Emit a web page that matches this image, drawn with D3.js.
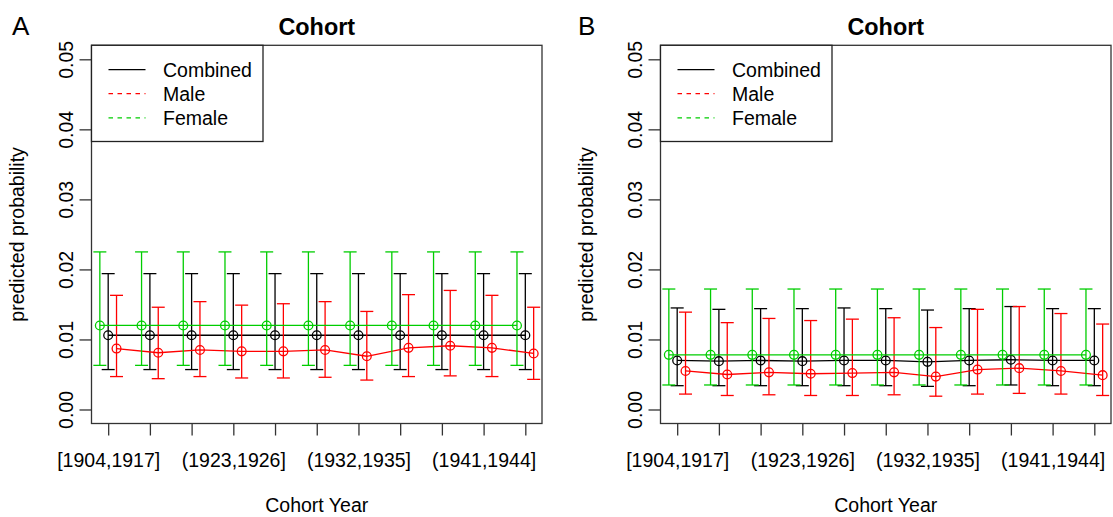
<!DOCTYPE html>
<html>
<head>
<meta charset="utf-8">
<script src="https://cdn.jsdelivr.net/npm/d3@7"></script>
<style>
  body { margin: 0; background: #fff; }
  svg { font-family: "Liberation Sans", Arial, Helvetica, sans-serif; }
</style>
</head>
<body>
<svg id="chart" width="1113" height="517"></svg>
<script>
// Cohort categories (x axis)
const cohorts = [
  "[1904,1917]", "(1917,1920]", "(1920,1923]", "(1923,1926]", "(1926,1929]",
  "(1929,1932]", "(1932,1935]", "(1935,1938]", "(1938,1941]", "(1941,1944]",
  "(1944,1947]",
];
const yTicks = [0, 0.01, 0.02, 0.03, 0.04, 0.05];
const seriesNames = ["Combined", "Male", "Female"];

// Panel A
const aCombinedMean = [0.0106, 0.0106, 0.0106, 0.0106, 0.0106, 0.0106, 0.0106, 0.0106, 0.0106, 0.0106, 0.0106];
const aCombinedLo = [0.0057, 0.0057, 0.0057, 0.0057, 0.0057, 0.0057, 0.0057, 0.0057, 0.0057, 0.0057, 0.0057];
const aCombinedHi = [0.0194, 0.0194, 0.0194, 0.0194, 0.0194, 0.0194, 0.0194, 0.0194, 0.0194, 0.0194, 0.0194];
const aMaleMean = [0.0087, 0.0081, 0.0085, 0.0083, 0.0083, 0.0085, 0.0076, 0.0088, 0.0091, 0.0088, 0.0080];
const aMaleLo = [0.0047, 0.0044, 0.0047, 0.0045, 0.0045, 0.0046, 0.0042, 0.0047, 0.0048, 0.0047, 0.0043];
const aMaleHi = [0.0163, 0.0146, 0.0154, 0.0149, 0.0151, 0.0154, 0.0140, 0.0164, 0.0170, 0.0163, 0.0146];
const aFemaleMean = [0.0120, 0.0120, 0.0120, 0.0120, 0.0120, 0.0120, 0.0120, 0.0120, 0.0120, 0.0120, 0.0120];
const aFemaleLo = [0.0063, 0.0063, 0.0063, 0.0063, 0.0063, 0.0063, 0.0063, 0.0063, 0.0063, 0.0063, 0.0063];
const aFemaleHi = [0.0225, 0.0225, 0.0225, 0.0225, 0.0225, 0.0225, 0.0225, 0.0225, 0.0225, 0.0225, 0.0225];

// Panel B
const bCombinedMean = [0.0070, 0.0069, 0.0070, 0.0069, 0.0070, 0.0070, 0.0068, 0.0070, 0.0071, 0.0070, 0.0070];
const bCombinedLo = [0.0034, 0.0034, 0.0034, 0.0034, 0.0034, 0.0034, 0.0033, 0.0034, 0.0035, 0.0034, 0.0034];
const bCombinedHi = [0.0145, 0.0143, 0.0144, 0.0144, 0.0145, 0.0144, 0.0142, 0.0144, 0.0147, 0.0144, 0.0144];
const bMaleMean = [0.0055, 0.0050, 0.0053, 0.0051, 0.0052, 0.0053, 0.0047, 0.0057, 0.0059, 0.0055, 0.0049];
const bMaleLo = [0.0022, 0.0020, 0.0021, 0.0020, 0.0020, 0.0021, 0.0019, 0.0022, 0.0023, 0.0022, 0.0020];
const bMaleHi = [0.0139, 0.0124, 0.0130, 0.0127, 0.0129, 0.0131, 0.0117, 0.0143, 0.0147, 0.0137, 0.0122];
const bFemaleMean = [0.0078, 0.0078, 0.0078, 0.0078, 0.0078, 0.0078, 0.0078, 0.0078, 0.0078, 0.0078, 0.0078];
const bFemaleLo = [0.0035, 0.0035, 0.0035, 0.0035, 0.0035, 0.0035, 0.0035, 0.0035, 0.0035, 0.0035, 0.0035];
const bFemaleHi = [0.0172, 0.0172, 0.0172, 0.0172, 0.0172, 0.0172, 0.0172, 0.0172, 0.0172, 0.0172, 0.0172];

const colors = { Combined: "#000000", Male: "#FF0000", Female: "#00CD00" };
const offsets = { Combined: 0, Male: 0.2, Female: -0.2 };
const fontSize = 19.5;

const svg = d3.select("#chart");

function drawPanel(left, letter, series) {
  const plot = { left: left, right: left + 450.5, top: 45.3, bottom: 423.5 };
  const g = svg.append("g");

  const x = d3.scaleLinear().domain([0.6, 11.4]).range([plot.left, plot.right]);
  const y = d3.scaleLinear().domain([-0.002, 0.052]).range([plot.bottom, plot.top]);

  // series: line, error bars, points
  const line = d3.line().x((d) => x(d.i + offsets[d.name])).y((d) => y(d.mean));
  series.forEach((s) => {
    const pts = s.mean.map((m, i) => ({ i: i + 1, name: s.name, mean: m, lo: s.lo[i], hi: s.hi[i] }));
    const col = colors[s.name];
    const sg = g.append("g");

    sg.append("path")
      .datum(pts)
      .attr("d", line)
      .attr("fill", "none")
      .attr("stroke", col)
      .attr("stroke-width", 1.3);

    const bars = sg.selectAll(".bar").data(pts).enter().append("g");
    bars.append("line")
      .attr("x1", (d) => x(d.i + offsets[d.name]))
      .attr("x2", (d) => x(d.i + offsets[d.name]))
      .attr("y1", (d) => y(d.lo))
      .attr("y2", (d) => y(d.hi))
      .attr("stroke", col).attr("stroke-width", 1.3);
    ["lo", "hi"].forEach((k) => {
      bars.append("line")
        .attr("x1", (d) => x(d.i + offsets[d.name]) - 6.5)
        .attr("x2", (d) => x(d.i + offsets[d.name]) + 6.5)
        .attr("y1", (d) => y(d[k]))
        .attr("y2", (d) => y(d[k]))
        .attr("stroke", col).attr("stroke-width", 1.3);
    });

    sg.selectAll("circle").data(pts).enter().append("circle")
      .attr("cx", (d) => x(d.i + offsets[d.name]))
      .attr("cy", (d) => y(d.mean))
      .attr("r", 4.4)
      .attr("fill", "none")
      .attr("stroke", col)
      .attr("stroke-width", 1.3);
  });

  // plot box
  g.append("rect")
    .attr("x", plot.left).attr("y", plot.top)
    .attr("width", plot.right - plot.left).attr("height", plot.bottom - plot.top)
    .attr("fill", "none").attr("stroke", "#333").attr("stroke-width", 1.3);

  // y axis
  const yAxis = g.append("g")
    .attr("transform", `translate(${plot.left},0)`)
    .call(d3.axisLeft(y).tickValues(yTicks).tickSize(12).tickFormat(d3.format(".2f")));
  yAxis.select(".domain").remove();
  yAxis.selectAll(".tick line").attr("stroke", "#333").attr("stroke-width", 1.3);
  yAxis.selectAll(".tick text")
    .attr("x", null).attr("dy", null)
    .attr("text-anchor", "middle")
    .attr("transform", "translate(-19,0) rotate(-90)")
    .style("font-size", fontSize + "px")
    .attr("fill", "#000");

  // x axis
  const xAxis = g.append("g")
    .attr("transform", `translate(0,${plot.bottom})`)
    .call(d3.axisBottom(x).tickValues(d3.range(1, 12)).tickSize(12).tickFormat((i) => cohorts[i - 1]));
  xAxis.select(".domain").remove();
  xAxis.selectAll(".tick line").attr("stroke", "#333").attr("stroke-width", 1.3);
  xAxis.selectAll(".tick text")
    .attr("y", 43).attr("dy", null)
    .style("font-size", fontSize + "px")
    .attr("fill", "#000");

  // drop labels that would overlap, like R does
  let lastRight = -Infinity;
  xAxis.selectAll(".tick").each(function (d) {
    const t = d3.select(this).select("text");
    const w = t.node().getComputedTextLength();
    const cx = x(d);
    if (cx - w / 2 < lastRight + 8) {
      t.remove();
    } else {
      lastRight = cx + w / 2;
    }
  });

  // titles
  g.append("text")
    .attr("x", (plot.left + plot.right) / 2).attr("y", 35)
    .attr("text-anchor", "middle")
    .style("font-size", "23.4px").style("font-weight", "bold")
    .text("Cohort");

  g.append("text")
    .attr("x", (plot.left + plot.right) / 2).attr("y", 512)
    .attr("text-anchor", "middle")
    .style("font-size", fontSize + "px")
    .text("Cohort Year");

  g.append("text")
    .attr("transform", `translate(${plot.left - 67.5},${(plot.top + plot.bottom) / 2}) rotate(-90)`)
    .attr("text-anchor", "middle")
    .style("font-size", fontSize + "px")
    .text("predicted probability");

  g.append("text")
    .attr("x", letter.x).attr("y", 35)
    .style("font-size", "26px")
    .text(letter.text);

  // legend
  const lg = g.append("g");
  lg.append("rect")
    .attr("x", plot.left).attr("y", plot.top)
    .attr("width", 171.5).attr("height", 141.5 - plot.top)
    .attr("fill", "#fff").attr("stroke", "#222").attr("stroke-width", 1.3);
  seriesNames.forEach((name, k) => {
    const ly = 69.6 + k * 24.1;
    lg.append("line")
      .attr("x1", plot.left + 17).attr("x2", plot.left + 54)
      .attr("y1", ly).attr("y2", ly)
      .attr("stroke", colors[name]).attr("stroke-width", 1.3)
      .attr("stroke-dasharray", name === "Combined" ? null : "4.5,4.5");
    lg.append("text")
      .attr("x", plot.left + 71.5).attr("y", ly).attr("dy", "0.36em")
      .style("font-size", fontSize + "px")
      .text(name);
  });
}

drawPanel(91.5, { text: "A", x: 12 }, [
  { name: "Combined", mean: aCombinedMean, lo: aCombinedLo, hi: aCombinedHi },
  { name: "Male", mean: aMaleMean, lo: aMaleLo, hi: aMaleHi },
  { name: "Female", mean: aFemaleMean, lo: aFemaleLo, hi: aFemaleHi },
]);

drawPanel(660.5, { text: "B", x: 578 }, [
  { name: "Combined", mean: bCombinedMean, lo: bCombinedLo, hi: bCombinedHi },
  { name: "Male", mean: bMaleMean, lo: bMaleLo, hi: bMaleHi },
  { name: "Female", mean: bFemaleMean, lo: bFemaleLo, hi: bFemaleHi },
]);
</script>
</body>
</html>
